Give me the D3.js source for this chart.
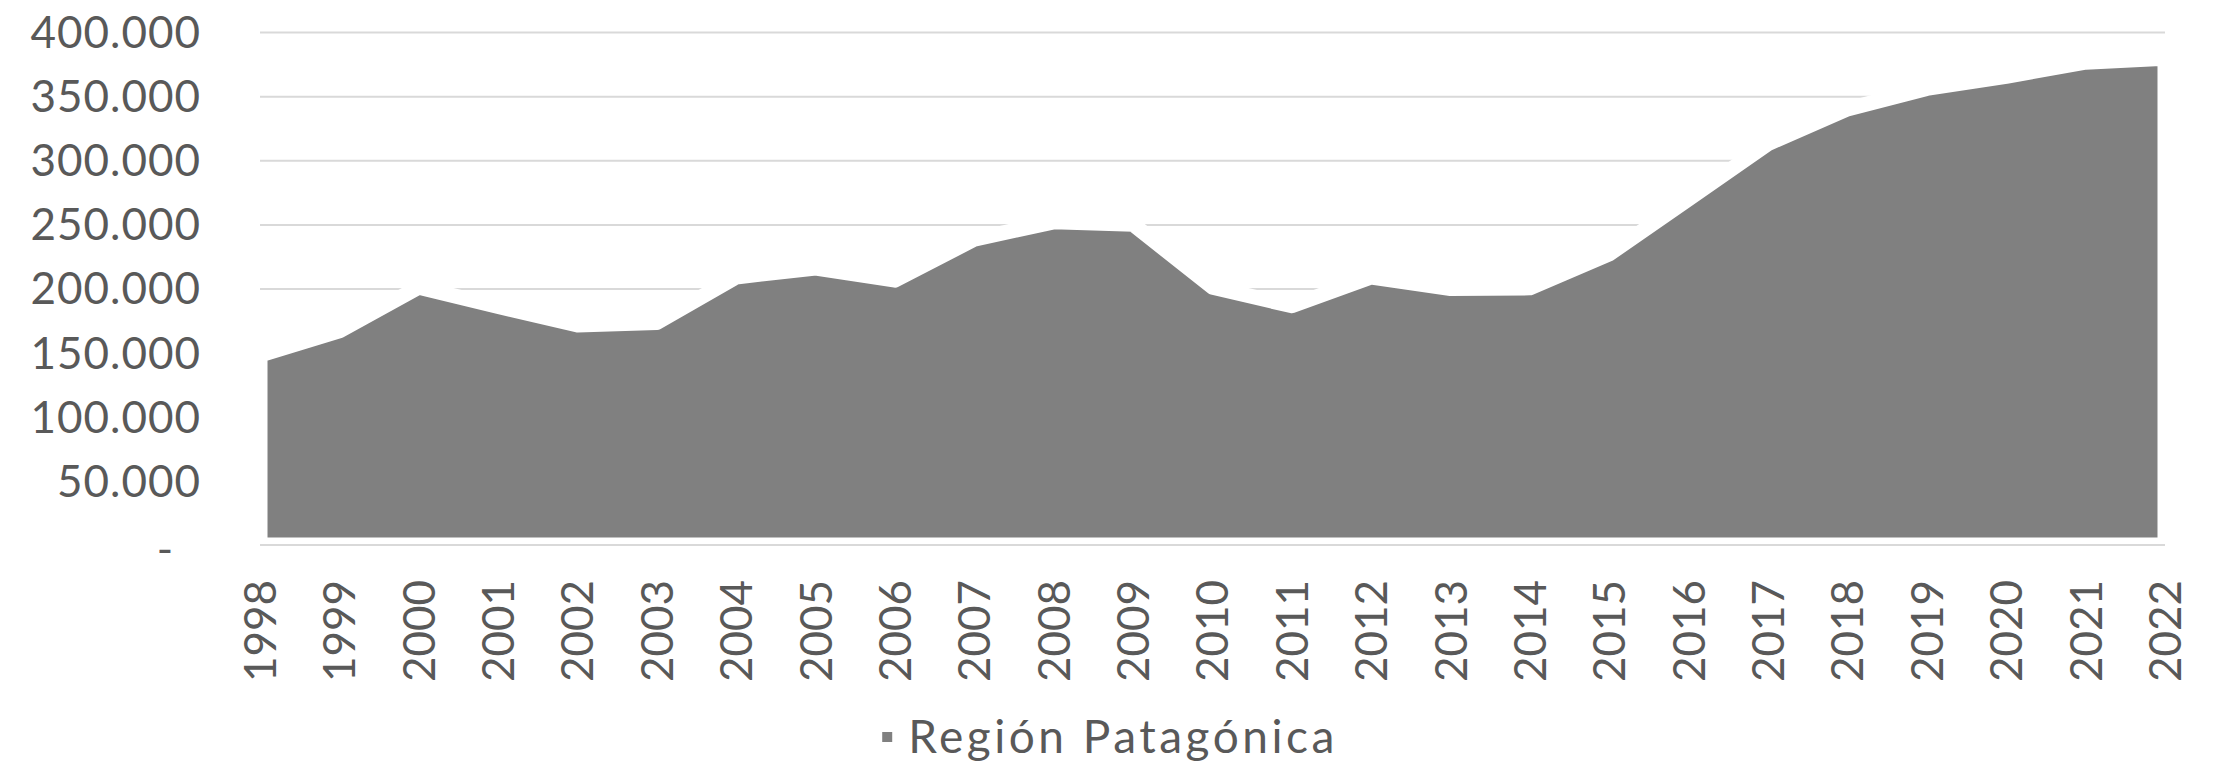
<!DOCTYPE html>
<html lang="es">
<head>
<meta charset="UTF-8">
<script src="https://cdn.jsdelivr.net/npm/d3@7"></script>
<style>
  body { margin: 0; background: #fff; }
  svg text { font-family: Lato, "Open Sans", sans-serif; fill: #595959; }
</style>
</head>
<body>
<svg id="chart"></svg>
<script>
// datos
const years = ["1998","1999","2000","2001","2002","2003","2004","2005","2006","2007","2008","2009",
               "2010","2011","2012","2013","2014","2015","2016","2017","2018","2019","2020","2021","2022"];
const valores = [148000, 167000, 201000, 186000, 171500, 173500, 209000, 216000, 206500, 238500, 252000, 250000,
                 201000, 186500, 209000, 200000, 200500, 227000, 270000, 313000, 340000, 356000, 365500, 376500, 379500];
const yTicks = [0, 50000, 100000, 150000, 200000, 250000, 300000, 350000, 400000];
const serie = "Región Patagónica";

const width = 2217, height = 765;
const margin = {left: 260, right: 52, top: 32, bottom: 220};
const fontSize = 44;

const svg = d3.select("#chart").attr("width", width).attr("height", height);

const x = d3.scalePoint().domain(years).range([margin.left, width - margin.right]);
const y = d3.scaleLinear().domain([0, 400000]).range([height - margin.bottom, margin.top]);

const loc = d3.formatLocale({decimal: ",", thousands: ".", grouping: [3], currency: ["$", ""]});
const fmt = loc.format(",.0f");

// gridlines
svg.append("g")
  .attr("transform", `translate(${margin.left},0)`)
  .call(d3.axisLeft(y).tickValues(yTicks.filter(d => d > 0)).tickSize(-(width - margin.left - margin.right)).tickFormat(""))
  .call(g => g.select(".domain").remove())
  .call(g => g.selectAll("line").attr("stroke", "#d9d9d9").attr("stroke-width", 2));

// area
const area = d3.area()
  .x((d, i) => x(years[i]))
  .y0(y(0))
  .y1(d => y(d));

svg.append("path")
  .datum(valores)
  .attr("d", area)
  .attr("fill", "#808080")
  .attr("stroke", "#ffffff")
  .attr("stroke-width", 15)
  .attr("stroke-linejoin", "round");

// eje x (linea)
svg.append("line")
  .attr("x1", margin.left).attr("x2", width - margin.right)
  .attr("y1", y(0)).attr("y2", y(0))
  .attr("stroke", "#d9d9d9").attr("stroke-width", 2);

// etiquetas eje y
svg.append("g")
  .attr("transform", `translate(${margin.left},0)`)
  .call(d3.axisLeft(y).tickValues(yTicks).tickSize(0).tickPadding(59).tickFormat(d => d === 0 ? "-" : fmt(d)))
  .call(g => g.select(".domain").remove())
  .call(g => g.selectAll("text")
    .style("font-size", fontSize + "px")
    .style("letter-spacing", "1px")
    .attr("fill", "#595959")
    .attr("dx", d => d === 0 ? -27 : 0)
    .attr("dy", d => d === 0 ? "0.45em" : "0.35em"));

// etiquetas eje x
svg.append("g")
  .attr("transform", `translate(0,${y(0)})`)
  .call(d3.axisBottom(x).tickSize(0))
  .call(g => g.select(".domain").remove())
  .call(g => g.selectAll("text")
    .style("font-size", fontSize + "px")
    .attr("fill", "#595959")
    .attr("transform", "rotate(-90)")
    .attr("text-anchor", "end")
    .attr("x", -35)
    .attr("y", 0)
    .attr("dy", "0.35em"));

// leyenda
const leg = svg.append("g");
leg.append("rect")
  .attr("width", 10).attr("height", 10)
  .attr("fill", "#808080");
const legText = leg.append("text")
  .attr("x", 26)
  .attr("y", 5)
  .attr("dy", "0.35em")
  .style("font-size", "46px")
  .style("letter-spacing", "3.5px")
  .text(serie);
const legW = 26 + legText.node().getComputedTextLength();
leg.attr("transform", `translate(${1110 - legW / 2},${732})`);
</script>
</body>
</html>
